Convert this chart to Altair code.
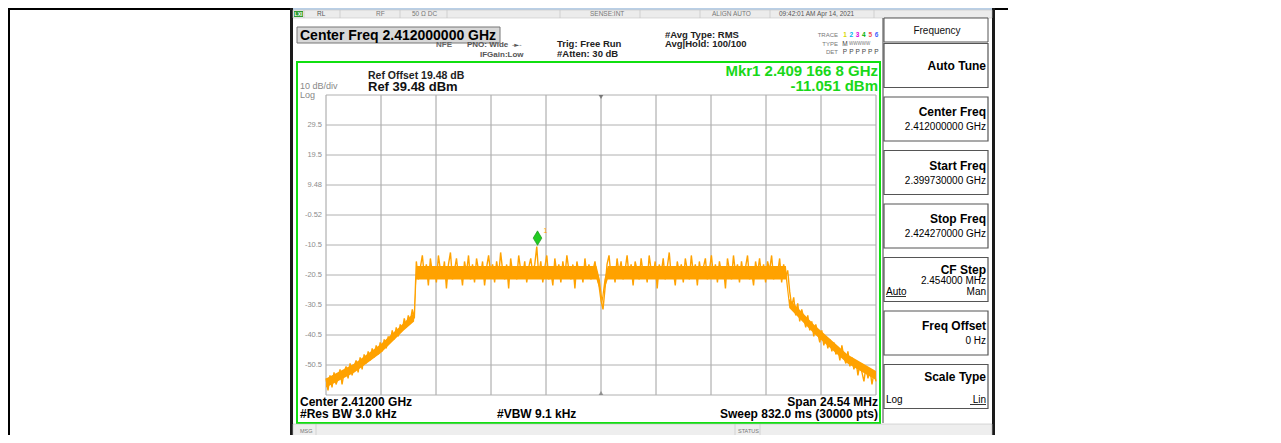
import altair as alt
import numpy as np
import pandas as pd

# ---------------- data ----------------
START_GHZ, STOP_GHZ = 2.39973, 2.42427
REF_DBM, BOTTOM_DBM = 39.48, -60.52

skirt_left = [-55, -59, -54, -58, -53, -57, -55, -52, -57, -53,
              -51, -55, -50, -54, -51, -49, -53, -48, -52, -47,
              -50, -46, -49, -45, -48, -44, -47, -43, -46, -42,
              -45, -41, -43, -39, -42, -38, -41, -37, -39, -35,
              -38, -34, -36, -32, -35]
band_left = [-16, -22, -18, -14, -21, -17, -24, -15, -20, -18,
             -23, -14, -19, -21, -16, -25, -17, -13, -22, -19,
             -15, -21, -18, -24, -16, -20, -14, -22, -17, -23,
             -15, -19, -21, -16, -24, -18, -14, -20, -17, -23,
             -16, -21, -13, -19, -22, -17, -25, -15, -20, -18,
             -22, -14, -19, -21, -16, -23, -18, -15, -20, -17,
             -11.05, -21, -16, -23, -18, -14, -22, -19, -24, -15,
             -20, -17, -23, -16, -21, -14, -19, -22, -17, -25,
             -16, -20, -18, -23, -15, -21, -17, -22, -19, -16, -21]
notch = [-24, -29, -32, -25]
band_right = [-17, -14, -21, -18, -23, -15, -20, -16, -22, -19,
              -14, -21, -17, -24, -16, -19, -22, -15, -20, -18,
              -23, -14, -19, -21, -16, -25, -17, -20, -15, -22,
              -18, -13, -21, -19, -24, -16, -20, -17, -23, -15,
              -19, -22, -14, -20, -17, -24, -16, -21, -18, -15,
              -22, -19, -14, -21, -17, -23, -16, -20, -18, -25,
              -15, -19, -22, -14, -20, -17, -23, -16, -21, -18,
              -14, -22, -19, -24, -16, -20, -15, -21, -17, -23,
              -16, -19, -14, -22, -18, -20, -15, -23, -17, -21, -19]
skirt_right = [-26, -31, -28, -34, -30, -36, -32, -35, -38, -34,
               -39, -36, -41, -37, -40, -43, -39, -44, -41, -45,
               -42, -46, -43, -47, -45, -49, -44, -48, -50, -46,
               -51, -48, -52, -49, -54, -50, -53, -56, -51, -55,
               -52, -57, -53, -56]

# dense core of the trace (where the 30000 sweep points pile up)
core_freq = [2.39973, 2.40100, 2.40218, 2.40320, 2.40366, 2.40376, 2.41180, 2.41195,
             2.41205, 2.41215, 2.41230, 2.42025, 2.42040, 2.42150, 2.42300, 2.42427]
core_hi = [-55, -50, -43.5, -36.5, -33, -17.5, -17.5, -22, -28, -22, -17.5, -17.5, -28.5, -37, -47, -52.5]
core_lo = [-58, -53, -46.5, -39, -36, -22, -22, -25.5, -30.5, -25.5, -22, -22, -31.5, -40, -50, -55.5]

freq_grid = [2.39973, 2.402184, 2.404638, 2.407092, 2.409546, 2.412,
             2.414454, 2.416908, 2.419362, 2.421816, 2.42427]
level_grid = [39.48, 29.48, 19.48, 9.48, -0.52, -10.52, -20.52, -30.52,
              -40.52, -50.52, -60.52]
level_tick_values = [29.48, 19.48, 9.48, -0.52, -10.52, -20.52, -30.52, -40.52, -50.52]
level_tick_labels = ["29.5", "19.5", "9.48", "-0.52", "-10.5", "-20.5", "-30.5", "-40.5", "-50.5"]

mkr_freq = [2.4091668]
mkr_level = [-11.051]
center_freq = [2.412]

# ---------------- tables ----------------
levels = skirt_left + band_left + notch + band_right + skirt_right
trace = pd.DataFrame({"freq": np.linspace(START_GHZ, STOP_GHZ, len(levels)), "level": levels})
core = pd.DataFrame({"freq": core_freq, "hi": core_hi, "lo": core_lo})
vgrid = pd.DataFrame({"freq": freq_grid})
hgrid = pd.DataFrame({"level": level_grid})
ylab = pd.DataFrame({"level": level_tick_values, "label": level_tick_labels})
mkr = pd.DataFrame({"freq": mkr_freq, "level": mkr_level})
ctr = pd.DataFrame({"freq": center_freq})

# ---------------- layout ----------------
W, H = 550, 300
OX, OY = 326, 95          # absolute position of plot area in the page
FONT = "Liberation Sans"
ONE = alt.Data(values=[{"k": 0}])
ORANGE = "#FFA200"

xs = alt.Scale(domain=[START_GHZ, STOP_GHZ], nice=False, zero=False)
ys = alt.Scale(domain=[BOTTOM_DBM, REF_DBM], nice=False, zero=False)


def X(a):
    return a - OX


def Y(b):
    return b - OY


def text(s, x, y, size=10, weight="normal", color="#000000", align="left", baseline="middle", font=FONT):
    return alt.Chart(ONE).mark_text(
        text=s, fontSize=size, fontWeight=weight, color=color, align=align,
        baseline=baseline, font=font
    ).encode(x=alt.value(X(x)), y=alt.value(Y(y)))


def box(x1, y1, x2, y2, fill="transparent", stroke="transparent", sw=1.0):
    return alt.Chart(ONE).mark_rect(fill=fill, stroke=stroke, strokeWidth=sw).encode(
        x=alt.value(X(x1)), x2=alt.value(X(x2)), y=alt.value(Y(y1)), y2=alt.value(Y(y2)))


def line(x1, y1, x2, y2, color="#000000", sw=1.0):
    return alt.Chart(ONE).mark_rule(color=color, strokeWidth=sw).encode(
        x=alt.value(X(x1)), x2=alt.value(X(x2)), y=alt.value(Y(y1)), y2=alt.value(Y(y2)))


layers = []

# outer border of the screenshot (drawn at the page edge)
layers.append(box(8, 8, 10, 435, fill="#000000"))
layers.append(box(8, 8, 1265, 10, fill="#000000"))

# instrument frame
layers.append(box(290, 8, 293, 440, fill="#1a1a1a"))
layers.append(box(992, 8, 995, 440, fill="#1a1a1a"))
layers.append(box(293, 8, 992, 10, fill="#b9cfe6"))
# status row
layers.append(box(293, 10, 992, 18, fill="#ececec", stroke="#c8c8c8", sw=0.6))
for sx in [304, 340, 400, 447, 560, 640, 700, 770, 874]:
    layers.append(line(sx, 10, sx, 18, color="#c0c0c0", sw=0.6))
layers.append(box(294, 11, 303, 17, fill="#2f9a2f"))
layers.append(text("LXI", 298.5, 14, size=5, weight="bold", color="#ffffff", align="center"))
layers.append(text("RL", 317, 14, size=6.5, color="#555555"))
layers.append(text("RF", 376, 14, size=6.5, color="#777777"))
layers.append(text("50 Ω   DC", 412, 14, size=6.5, color="#777777"))
layers.append(text("SENSE:INT", 590, 14, size=6.5, color="#777777"))
layers.append(text("ALIGN AUTO", 712, 14, size=6.5, color="#777777"))
layers.append(text("09:42:01 AM Apr 14, 2021", 779, 14, size=6.5, color="#555555"))

# header
layers.append(box(297, 27, 500, 43, fill="#d8d8d8", stroke="#777777", sw=1))
layers.append(text("Center Freq 2.412000000 GHz", 300, 35.5, size=14, weight="bold"))
layers.append(text("NFE", 436, 45, size=8, weight="bold", color="#666666"))
layers.append(text("PNO: Wide", 467, 45, size=8, weight="bold", color="#555555"))
layers.append(text("-►-", 512, 45, size=6.5, color="#555555", font="DejaVu Sans"))
layers.append(text("IFGain:Low", 480, 55, size=8, weight="bold", color="#555555"))
layers.append(text("Trig: Free Run", 557, 44, size=9.5, weight="bold", color="#222222"))
layers.append(text("#Atten: 30 dB", 557, 54, size=9.5, weight="bold", color="#222222"))
layers.append(text("#Avg Type: RMS", 665, 35, size=9.5, weight="bold", color="#222222"))
layers.append(text("Avg|Hold: 100/100", 665, 44, size=9.5, weight="bold", color="#222222"))
layers.append(text("TRACE", 838, 35, size=6, color="#777777", align="right"))
layers.append(text("TYPE", 838, 44, size=6, color="#777777", align="right"))
layers.append(text("DET", 838, 52, size=6, color="#777777", align="right"))
trace_cols = ["#d8d800", "#00b4f0", "#e000e0", "#00b000", "#f05050", "#4060ff"]
for i, c in enumerate(trace_cols):
    layers.append(text(str(i + 1), 845 + i * 6.3, 35, size=6.5, weight="bold", color=c, align="center"))
    layers.append(text("P", 845 + i * 6.3, 52, size=6.5, color="#444444", align="center"))
layers.append(text("M", 845, 44, size=6.5, color="#444444", align="center"))
layers.append(text("WWWWW", 849, 44, size=4.5, color="#777777"))

# green measurement frame
layers.append(box(297, 62, 880, 423, stroke="#10e010", sw=2))
layers.append(text("Ref Offset 19.48 dB", 368, 75.5, size=10.5, weight="bold", color="#222222"))
layers.append(text("Ref 39.48 dBm", 368, 87, size=13, weight="bold", color="#111111"))
layers.append(text("10 dB/div", 300, 86, size=9, color="#888888"))
layers.append(text("Log", 300, 95, size=9, color="#888888"))
layers.append(text("Mkr1 2.409 166 8 GHz", 878, 70.5, size=15, weight="bold", color="#18d818", align="right"))
layers.append(text("-11.051 dBm", 878, 85.5, size=15, weight="bold", color="#18d818", align="right"))

# grid (through the chart scales)
layers.append(alt.Chart(vgrid).mark_rule(color="#a0a0a0", strokeWidth=1).encode(
    x=alt.X("freq:Q", scale=xs, axis=None), y=alt.value(0), y2=alt.value(H)))
layers.append(alt.Chart(hgrid).mark_rule(color="#b0b0b0", strokeWidth=1).encode(
    y=alt.Y("level:Q", scale=ys, axis=None), x=alt.value(0), x2=alt.value(W)))
layers.append(alt.Chart(ylab).mark_text(align="right", baseline="middle", fontSize=7.5,
                                        color="#8c8c8c", font=FONT).encode(
    y=alt.Y("level:Q", scale=ys, axis=None), x=alt.value(-4), text="label:N"))
layers.append(alt.Chart(ctr).mark_point(shape="triangle-down", filled=True, size=22, color="#555555").encode(
    x=alt.X("freq:Q", scale=xs, axis=None), y=alt.value(2)))
layers.append(alt.Chart(ctr).mark_point(shape="triangle-up", filled=True, size=22, color="#777777").encode(
    x=alt.X("freq:Q", scale=xs, axis=None), y=alt.value(H - 2)))

# spectrum trace: dense core + peak/trough detail
layers.append(alt.Chart(core).mark_area(color=ORANGE, opacity=1).encode(
    x=alt.X("freq:Q", scale=xs, axis=None),
    y=alt.Y("hi:Q", scale=ys, axis=None), y2="lo:Q"))
layers.append(alt.Chart(trace).mark_line(color=ORANGE, strokeWidth=1.4).encode(
    x=alt.X("freq:Q", scale=xs, axis=None), y=alt.Y("level:Q", scale=ys, axis=None)))

# marker 1
layers.append(alt.Chart(mkr).mark_point(shape="M0,-1L0.6,0L0,1L-0.6,0Z", size=210, filled=True,
                                        fill="#22cc22", stroke="#118811", strokeWidth=0.6,
                                        opacity=1, yOffset=-8.5).encode(
    x=alt.X("freq:Q", scale=xs, axis=None), y=alt.Y("level:Q", scale=ys, axis=None)))
layers.append(alt.Chart(mkr).mark_text(text="1", fontSize=7, color=ORANGE, font=FONT,
                                       dx=8, dy=-16).encode(
    x=alt.X("freq:Q", scale=xs, axis=None), y=alt.Y("level:Q", scale=ys, axis=None)))

# bottom annotation
layers.append(text("Center 2.41200 GHz", 300, 401.5, size=12, weight="bold"))
layers.append(text("Span 24.54 MHz", 878, 401.5, size=12, weight="bold", align="right"))
layers.append(text("#Res BW 3.0 kHz", 300, 414, size=12, weight="bold"))
layers.append(text("#VBW 9.1 kHz", 497, 414, size=12, weight="bold"))
layers.append(text("Sweep  832.0 ms (30000 pts)", 878, 414, size=12, weight="bold", align="right"))

# message bar
layers.append(box(293, 424, 992, 437, fill="#eeeeee", stroke="#c0c0c0", sw=0.6))
layers.append(line(316, 424, 316, 437, color="#c0c0c0", sw=0.6))
layers.append(line(735, 424, 735, 437, color="#c0c0c0", sw=0.6))
layers.append(line(760, 424, 760, 437, color="#c0c0c0", sw=0.6))
layers.append(text("MSG", 300, 431, size=5.5, color="#777777"))
layers.append(text("STATUS", 738, 431, size=5.5, color="#777777"))

# softkey panel
layers.append(line(883, 18, 883, 423, color="#444444", sw=1))
layers.append(box(884, 18, 988, 42, fill="#ffffff", stroke="#555555", sw=1))
layers.append(text("Frequency", 937, 30.5, size=10, color="#111111", align="center"))
KEY_TOP0, KEY_STEP, KEY_H = 43.5, 53.5, 44
for k in range(7):
    t = KEY_TOP0 + k * KEY_STEP
    layers.append(box(884, t, 988, t + KEY_H, fill="#ffffff", stroke="#555555", sw=1.2))
RX = 986
layers.append(text("Auto Tune", RX, 65.5, size=12, weight="bold", align="right"))
layers.append(text("Center Freq", RX, 112, size=12, weight="bold", align="right"))
layers.append(text("2.412000000 GHz", RX, 127, size=10, align="right"))
layers.append(text("Start Freq", RX, 165.5, size=12, weight="bold", align="right"))
layers.append(text("2.399730000 GHz", RX, 180.5, size=10, align="right"))
layers.append(text("Stop Freq", RX, 219, size=12, weight="bold", align="right"))
layers.append(text("2.424270000 GHz", RX, 234, size=10, align="right"))
layers.append(text("CF Step", RX, 269.5, size=12, weight="bold", align="right"))
layers.append(text("2.454000 MHz", RX, 280.5, size=10, align="right"))
layers.append(text("Auto", 886, 291.5, size=10))
layers.append(line(886, 296.5, 906, 296.5, color="#000000", sw=0.8))
layers.append(text("Man", RX, 291.5, size=10, align="right"))
layers.append(text("Freq Offset", RX, 326, size=12, weight="bold", align="right"))
layers.append(text("0 Hz", RX, 341, size=10, align="right"))
layers.append(text("Scale Type", RX, 376.5, size=12, weight="bold", align="right"))
layers.append(text("Log", 886, 399.5, size=10))
layers.append(text("Lin", RX, 399.5, size=10, align="right"))
layers.append(line(970, 404.5, 986, 404.5, color="#000000", sw=0.8))

chart = alt.layer(*layers).properties(
    width=W, height=H,
    autosize=alt.AutoSizeParams(type="none"),
    padding={"left": OX - 8, "top": OY - 8, "right": 1000 - (OX - 8) - W, "bottom": 427 - (OY - 8) - H},
).configure_view(stroke=None)

chart.save("out.html", embed_options={"renderer": "svg", "actions": False})
